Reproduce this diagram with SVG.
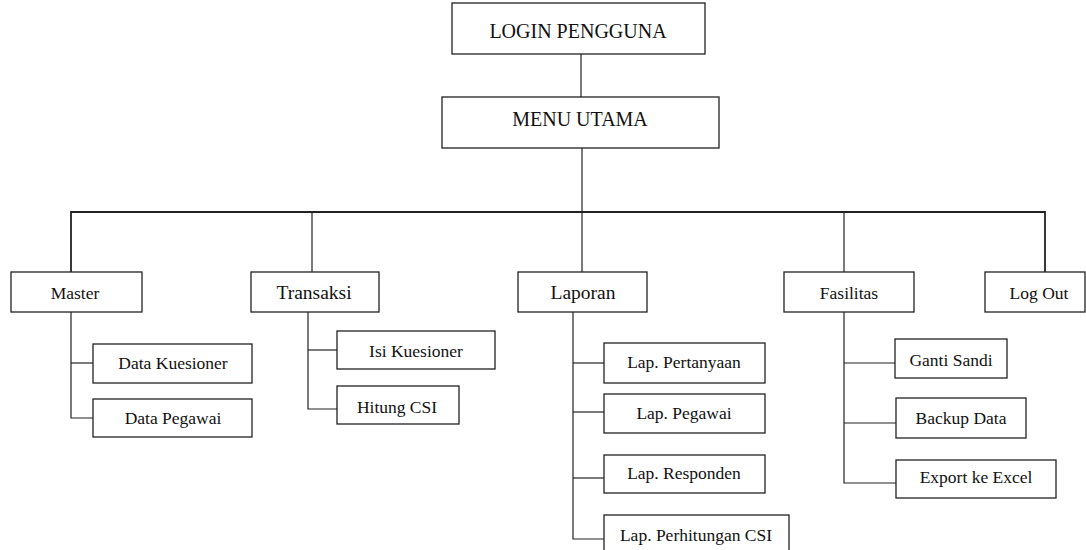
<svg xmlns="http://www.w3.org/2000/svg" width="1086" height="550" viewBox="0 0 1086 550">
<style>
.b{fill:#fff;stroke:#222;stroke-width:1.3}
.t{font-family:"Liberation Serif","Times New Roman",serif;fill:#111;text-anchor:middle;font-size:17.5px}
.l{fill:none;stroke:#222;stroke-width:1.2}
</style>
<rect width="1086" height="550" fill="#fff"/>
<g id="connectors">
<line class="l" x1="581" y1="54" x2="581" y2="97"/>
<line class="l" x1="582" y1="148" x2="582" y2="212"/>
<polyline class="l" style="stroke-width:1.8" points="71,272 71,212 1045,212 1045,272"/>
<line class="l" x1="312" y1="212" x2="312" y2="272"/>
<line class="l" x1="582" y1="212" x2="582" y2="272"/>
<line class="l" x1="844" y1="212" x2="844" y2="272"/>
<polyline class="l" points="71,312 71,418 93,418"/>
<line class="l" x1="71" y1="363" x2="93" y2="363"/>
<polyline class="l" points="308,312 308,409 337,409"/>
<line class="l" x1="308" y1="350" x2="337" y2="350"/>
<polyline class="l" points="573,312 573,539 604,539"/>
<line class="l" x1="573" y1="363" x2="604" y2="363"/>
<line class="l" x1="573" y1="412" x2="604" y2="412"/>
<line class="l" x1="573" y1="478" x2="604" y2="478"/>
<polyline class="l" points="844,312 844,483 896,483"/>
<line class="l" x1="844" y1="363" x2="895" y2="363"/>
<line class="l" x1="844" y1="423" x2="896" y2="423"/>
</g>
<g id="login"><rect class="b" x="452" y="3" width="253" height="51"/><text class="t" x="578" y="38" style="font-size:20px">LOGIN PENGGUNA</text></g>
<g id="menu"><rect class="b" x="442" y="97" width="277" height="51"/><text class="t" x="580" y="126" style="font-size:20px">MENU UTAMA</text></g>
<g id="master"><rect class="b" x="11" y="272" width="131" height="40"/><text class="t" x="75" y="299">Master</text></g>
<g id="transaksi"><rect class="b" x="251" y="272" width="128" height="40"/><text class="t" x="314" y="299" style="font-size:19.5px">Transaksi</text></g>
<g id="laporan"><rect class="b" x="518" y="272" width="129" height="40"/><text class="t" x="583" y="299" style="font-size:19.5px">Laporan</text></g>
<g id="fasilitas"><rect class="b" x="784" y="272" width="130" height="40"/><text class="t" x="849" y="299">Fasilitas</text></g>
<g id="logout"><rect class="b" x="985" y="272" width="100" height="40"/><text class="t" x="1039" y="299">Log Out</text></g>
<g id="data-kuesioner"><rect class="b" x="93" y="344" width="159" height="39"/><text class="t" x="173" y="369">Data Kuesioner</text></g>
<g id="data-pegawai"><rect class="b" x="93" y="399" width="159" height="38"/><text class="t" x="173" y="424">Data Pegawai</text></g>
<g id="isi-kuesioner"><rect class="b" x="337" y="331" width="158" height="38"/><text class="t" x="416" y="357">Isi Kuesioner</text></g>
<g id="hitung-csi"><rect class="b" x="337" y="386" width="122" height="38"/><text class="t" x="397" y="413">Hitung CSI</text></g>
<g id="lap-pertanyaan"><rect class="b" x="604" y="343" width="161" height="40"/><text class="t" x="684" y="368">Lap. Pertanyaan</text></g>
<g id="lap-pegawai"><rect class="b" x="604" y="394" width="161" height="39"/><text class="t" x="684" y="419">Lap. Pegawai</text></g>
<g id="lap-responden"><rect class="b" x="604" y="455" width="161" height="38"/><text class="t" x="684" y="479">Lap. Responden</text></g>
<g id="lap-perhitungan-csi"><rect class="b" x="604" y="515" width="185" height="40"/><text class="t" x="696" y="541">Lap. Perhitungan CSI</text></g>
<g id="ganti-sandi"><rect class="b" x="895" y="339" width="112" height="39"/><text class="t" x="951" y="366">Ganti Sandi</text></g>
<g id="backup-data"><rect class="b" x="896" y="398" width="130" height="40"/><text class="t" x="961" y="424">Backup Data</text></g>
<g id="export-excel"><rect class="b" x="896" y="460" width="160" height="38"/><text class="t" x="976" y="483">Export ke Excel</text></g>
</svg>
